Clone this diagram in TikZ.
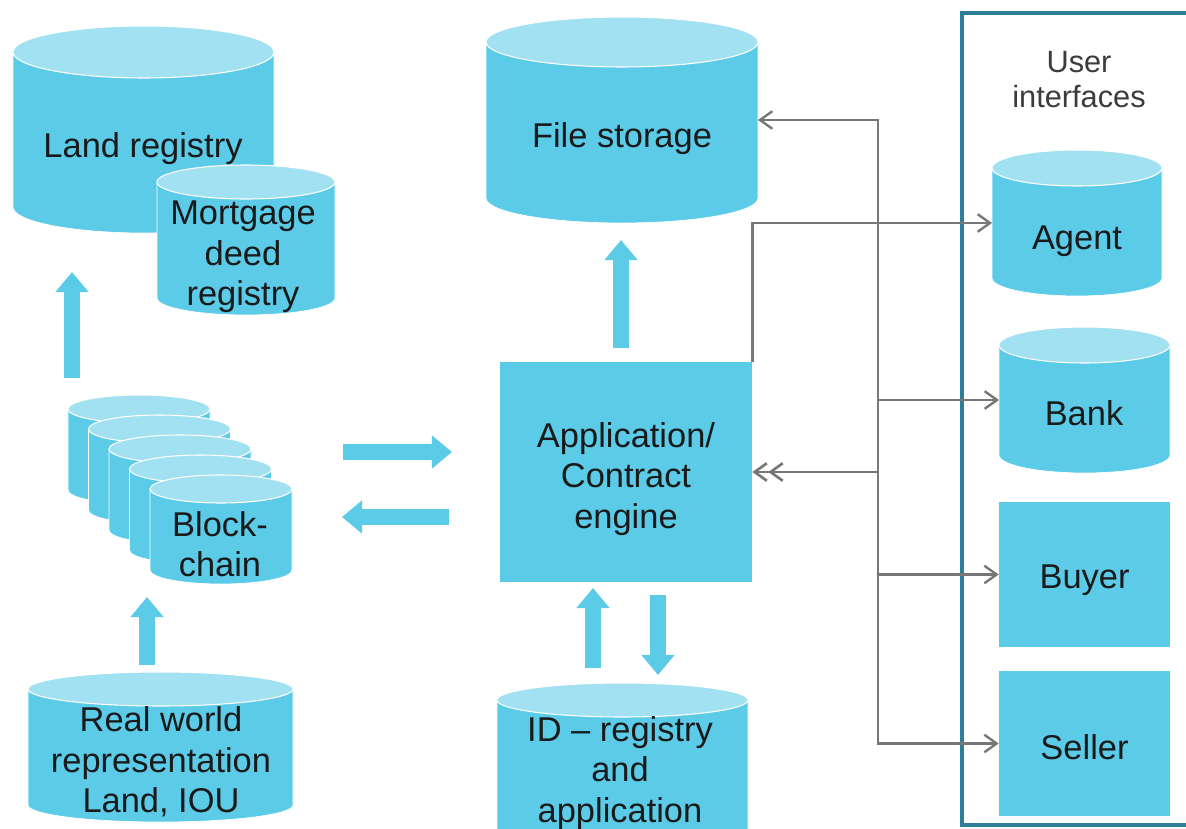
\documentclass[tikz,border=0pt]{standalone}
\usepackage{fontspec}
\setmainfont{Liberation Sans}
\usetikzlibrary{arrows.meta}

\definecolor{cyanbody}{HTML}{5BCBE8}
\definecolor{cyantop}{HTML}{A2E1F1}
\definecolor{frameteal}{HTML}{2C7F96}
\definecolor{linkgray}{HTML}{777777}
\definecolor{labelink}{HTML}{1A1A1A}

\tikzset{
  body/.style={fill=cyanbody, draw=white, line width=0.4pt},
  lid/.style={fill=cyantop, draw=white, line width=0.6pt},
  label/.style={text=labelink, font=\fontsize{19.6pt}{23pt}\selectfont,
                align=center, inner sep=0pt},
  uilabel/.style={text=labelink!85!white, font=\fontsize{17.5pt}{20pt}\selectfont,
                  align=center, inner sep=0pt},
  box/.style={fill=cyanbody, inner sep=0pt},
  flow/.style={draw=cyanbody, line width=9.1pt,
               -{Triangle[length=11.4pt, width=18.2pt]}},
  link/.style={draw=linkgray, line width=1.35pt,
               -{Straight Barb[length=7pt, width=10pt]}},
  linkdouble/.style={draw=linkgray, line width=1.5pt,
               -{Straight Barb[length=7pt, width=10pt] Straight Barb[length=7pt, width=10pt]}},
}

% database cylinder: #1 name, #2 left x, #3 right x,
% #4 lid centre y, #5 base centre y, #6 half-height of the ellipses
\newcommand\dbcyl[6]{%
  \path[body] (#2,#4) -- (#2,#5)
     arc[start angle=180, end angle=0, x radius={(#3-(#2))/2}, y radius=#6]
     -- (#3,#4) -- cycle;
  \path[lid] ({(#2+#3)/2},#4) ellipse[x radius={(#3-(#2))/2}, y radius=#6];
  \coordinate (#1-w) at (#2,{(#4+#5)/2});
  \coordinate (#1-e) at (#3,{(#4+#5)/2});
}

\begin{document}
\begin{tikzpicture}[x=0.02cm, y=-0.02cm]
  \useasboundingbox (0,0) rectangle (1186,828);
  \fill[white] (0,0) rectangle (1186,828);
  \clip (0,0) rectangle (1186,828);

  % ---------- left column: registries and ledger ----------
  \dbcyl{land}{13}{274}{52}{207}{26}
  \node[label] (landtxt) at (143,149) {Land registry};
  \dbcyl{mort}{157}{335}{182}{298}{17}
  \node[label] (morttxt) at (243,257) {Mortgage\\deed\\registry};

  \foreach \i in {0,...,4} {
    \dbcyl{bc\i}{68+20.5*\i}{210+20.5*\i}{409+20*\i}{490+20*\i}{14}
  }
  \node[label] (bctxt) at (220,544) {Block-\\chain};

  \dbcyl{real}{28}{293}{689}{805}{17}
  \node[label] (realtxt) at (161,762) {Real world\\representation\\Land, IOU};

  % ---------- centre column ----------
  \dbcyl{fs}{486}{758}{42}{198}{25}
  \node[label] (fstxt) at (622,139) {File storage};

  \node[box, minimum width=5.04cm, minimum height=4.4cm] (app) at (626,472) {};
  \node[label] (apptxt) at (626,479) {Application/\\Contract\\engine};

  \dbcyl{idr}{497}{748}{700}{860}{17}
  \node[label] (idrtxt) at (620,773) {ID -- registry\\and\\application};

  % ---------- user interfaces ----------
  \draw[frameteal, line width=2pt] (962,13) rectangle (1210,825);
  \node[uilabel] (uitxt) at (1079,80) {User\\interfaces};

  \dbcyl{agent}{992}{1162}{168}{278}{18}
  \node[label] (agenttxt) at (1077,241) {Agent};
  \dbcyl{bank}{999}{1170}{345}{455}{18}
  \node[label] (banktxt) at (1084,413) {Bank};
  \node[box, minimum width=3.42cm, minimum height=2.9cm] (buyer) at (1084.5,574.5) {};
  \node[label] (buyertxt) at (1084.5,580) {Buyer};
  \node[box, minimum width=3.42cm, minimum height=2.9cm] (seller) at (1084.5,743.5) {};
  \node[label] (sellertxt) at (1084.5,747) {Seller};

  % ---------- block arrows ----------
  \coordinate (bcUpFrom) at (72,378);   \coordinate (bcUpTo) at (72,272);
  \coordinate (realUpFrom) at (147,665); \coordinate (realUpTo) at (147,597);
  \coordinate (toAppFrom) at (343,452);  \coordinate (toAppTo) at (452,452);
  \coordinate (toBcFrom) at (449,517);   \coordinate (toBcTo) at (342,517);
  \coordinate (fsUpFrom) at (621,348);   \coordinate (fsUpTo) at (621,240);
  \coordinate (idUpFrom) at (593,668);   \coordinate (idUpTo) at (593,588);
  \coordinate (idDownFrom) at (658,595); \coordinate (idDownTo) at (658,675);

  \draw[flow] (bcUpFrom) -- (bcUpTo);
  \draw[flow] (realUpFrom) -- (realUpTo);
  \draw[flow] (toAppFrom) -- (toAppTo);
  \draw[flow] (toBcFrom) -- (toBcTo);
  \draw[flow] (fsUpFrom) -- (fsUpTo);
  \draw[flow] (idUpFrom) -- (idUpTo);
  \draw[flow] (idDownFrom) -- (idDownTo);

  % ---------- thin connectors ----------
  \coordinate (hub) at (878,472);
  \draw[linkdouble] (hub) -- (app.east);
  \draw[link] (hub) |- (fs-e);
  \draw[link] (hub) |- (bank-w);
  \draw[link] (hub) |- (buyer.west);
  \draw[link] (hub) |- (seller.west);
  \draw[link] (app.north east) |- (agent-w);
\end{tikzpicture}
\end{document}
